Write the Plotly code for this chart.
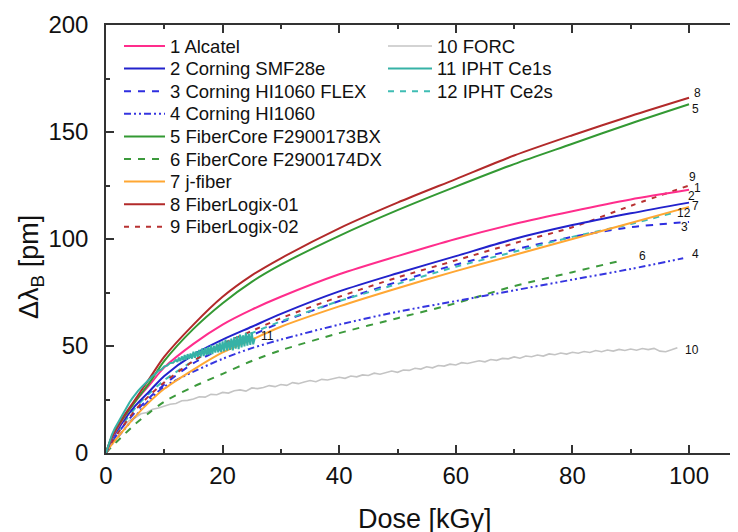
import plotly.graph_objects as go

# ---------------- data ----------------
dose_std = [0, 1, 2.5, 5, 7.5, 10, 15, 20, 25, 30, 40, 50, 60, 70, 80, 90, 100]
dose_4 = [0, 1, 2.5, 5, 7.5, 10, 15, 20, 25, 30, 40, 50, 60, 70, 80, 90, 99]
dose_6 = [0, 1, 2.5, 5, 7.5, 10, 15, 20, 25, 30, 40, 50, 60, 70, 80, 88.5]
dose_12 = [0, 1, 2.5, 5, 7.5, 10, 15, 20, 25, 30, 40, 50, 60, 70, 80, 90, 97]

alcatel = [0, 7, 14, 24, 32, 40, 51, 60, 67, 73, 83.5, 92, 100, 107, 113, 118.5, 123]
smf28e = [0, 6.5, 13, 22, 29, 36, 46, 53, 59, 65, 75.5, 84, 92, 100, 106.5, 112, 117]
hi1060flex = [0, 5, 11, 19, 26, 32, 42, 49, 55, 61, 71, 80, 88, 95, 101, 105.5, 108]
hi1060 = [0, 4, 9, 17, 25, 31, 38, 44, 49, 53, 60, 66, 71, 76, 81, 86, 91]
f2900173bx = [0, 7.5, 14.5, 24, 33, 43, 58, 70, 80, 88, 101.5, 113.5, 124.5, 135, 144.5, 154, 163]
f2900174dx = [0, 3, 7, 13.5, 19, 24, 31, 37, 43, 48, 56, 63, 70, 78, 84.5, 90]
jfiber = [0, 4, 9, 17, 24, 30, 39, 47, 53, 59, 68.5, 77, 85, 92.5, 100, 107.5, 115]
fiberlogix01 = [0, 7.5, 15, 25, 35, 45, 60, 73, 83, 91, 105, 117, 128, 139, 148.5, 157.5, 166]
fiberlogix02 = [0, 5, 11, 20, 27, 33, 43, 51, 57, 63, 73, 82, 90, 98, 105.5, 115.5, 125]
iphtce2s = [0, 6, 12, 21, 28, 34, 43, 50, 56, 61.5, 71, 79, 87, 94, 101, 107, 112]

dose_10 = list(range(0, 99))
forc = [0, 6.0, 9.8, 12.6, 15.2, 16.4, 18.3, 18.9, 20.4, 21.0,
        21.9, 22.8, 23.1, 24.4, 24.6, 25.2, 26.3, 26.1, 27.4, 27.2,
        28.3, 28.0, 29.1, 29.5, 28.9, 30.4, 30.1, 30.6, 31.5, 31.0,
        32.0, 31.6, 32.9, 32.4, 33.2, 33.9, 33.3, 34.4, 34.1, 34.9,
        35.4, 34.9, 36.0, 35.6, 36.5, 36.2, 37.3, 36.8, 37.5, 38.3,
        37.7, 38.8, 38.6, 39.6, 39.2, 40.3, 39.8, 40.9, 40.6, 41.5,
        41.1, 42.2, 41.8, 42.4, 43.1, 42.6, 43.7, 43.3, 44.2, 44.0,
        44.9, 44.3, 45.3, 45.0, 45.8, 45.3, 46.3, 45.9, 46.7, 46.2,
        47.1, 46.6, 47.4, 47.0, 47.9, 47.3, 48.1, 47.6, 48.4, 47.9,
        48.6, 48.0, 48.8, 48.3, 48.9, 47.6, 47.3, 48.2, 49.2]

dose_11 = [0, 0.5, 1, 1.5, 2, 2.5, 3, 3.5, 4, 4.5, 5, 5.5, 6, 6.5, 7, 7.5, 8, 8.5,
           9, 9.5, 10, 10.5, 11, 11.5, 12,
           12.25, 12.5, 12.75, 13, 13.25, 13.5, 13.75, 14, 14.25, 14.5, 14.75,
           15, 15.25, 15.5, 15.75, 16, 16.25, 16.5, 16.75, 17, 17.25, 17.5, 17.75,
           18, 18.25, 18.5, 18.75, 19, 19.25, 19.5, 19.75, 20, 20.25, 20.5, 20.75,
           21, 21.25, 21.5, 21.75, 22, 22.25, 22.5, 22.75, 23, 23.25, 23.5, 23.75,
           24, 24.25, 24.5, 24.75, 25, 25.25, 25.5]
iphtce1s = [0, 4.5, 8.5, 11.5, 14, 16.5, 19, 21, 23.5, 25.5, 27.5, 29, 30.5, 32, 33.5, 35, 36, 37,
            38.5, 39, 40.5, 40.8, 42, 42.2, 43.5,
            42.6, 44.6, 42.9, 45.1, 43.4, 45.8, 43.6, 46.2, 44.0, 46.5, 44.1,
            47.3, 44.5, 47.6, 45.0, 48.2, 45.1, 48.9, 45.3, 49.1, 45.8, 49.6, 46.0,
            50.3, 46.2, 50.1, 46.9, 51.0, 47.0, 51.7, 47.2, 52.2, 47.5, 53.0, 47.9,
            52.6, 48.2, 53.5, 48.0, 54.2, 48.8, 54.6, 48.5, 55.3, 49.3, 55.0, 49.8,
            56.1, 50.2, 55.8, 50.5, 56.4, 50.8, 53.5]

x_ticks = [0, 20, 40, 60, 80, 100]
y_ticks = [0, 50, 100, 150, 200]

FONT = "Liberation Sans, Arial, Helvetica, sans-serif"

# (name, end-label, x, y, colour, dash, width, legend column, legend row, xshift, yshift)
series = [
    ("10 FORC", "10", dose_10, forc, "#c4c4c4", "solid", 1.6, 1, 0, 15, -2),
    ("6 FiberCore F2900174DX", "6", dose_6, f2900174dx, "#3c9a3c", "7px,7px", 2, 0, 5, 21, 4),
    ("4 Corning HI1060", "4", dose_4, hi1060, "#3535e0", "7px,3px,2px,3px,2px,3px", 2, 0, 3, 12, 4),
    ("3 Corning HI1060 FLEX", "3", dose_std, hi1060flex, "#2e2ee0", "7px,7px", 2, 0, 2, -5, -5),
    ("12 IPHT Ce2s", "12", dose_12, iphtce2s, "#3fbdb4", "6px,6px", 2, 1, 2, 12, 0),
    ("7 j-fiber", "7", dose_std, jfiber, "#ffa733", "solid", 2, 0, 6, 6, 1),
    ("9 FiberLogix-02", "9", dose_std, fiberlogix02, "#b83232", "5px,6px", 2, 0, 8, 3, 9),
    ("2 Corning SMF28e", "2", dose_std, smf28e, "#2222cc", "solid", 2, 0, 1, 2, 7),
    ("1 Alcatel", "1", dose_std, alcatel, "#ff2d8c", "solid", 2, 0, 0, 8, 2),
    ("5 FiberCore F2900173BX", "5", dose_std, f2900173bx, "#339933", "solid", 2, 0, 4, 6, -5),
    ("8 FiberLogix-01", "8", dose_std, fiberlogix01, "#b22a2a", "solid", 2, 0, 7, 8, 5),
    ("11 IPHT Ce1s", "11", dose_11, iphtce1s, "#36b2a6", "solid", 2, 1, 1, 13, 3),
]

# The page body has an 8 px default margin, so the figure is drawn 8 px right / down.
OFF = 8
W, H = 738 - OFF, 532 - OFF
# plot-area geometry in screen pixels (reference coordinates)
L, T, R, B = 106, 25, 738, 453
def px_x(p):
    return (p - L) / (R - L)
def px_y(p):
    return (B - p) / (B - T)

legend_cols = [dict(x0=124, x1=165, tx=168), dict(x0=388, x1=432, tx=435)]
row0, row_step = 46, 22.6

fig = go.Figure()
annotations = []
shapes = []
for name, lab, xs, ys, col, dash, w, lcol, lrow, xs_, ys_ in series:
    smooth = len(xs) < 30
    fig.add_trace(go.Scatter(
        x=xs, y=ys, mode="lines", name=name, showlegend=False,
        line=dict(color=col, width=w, dash=dash,
                  shape="spline" if smooth else "linear", smoothing=0.8 if smooth else None),
        hoverinfo="skip"))
    annotations.append(dict(x=xs[-1], y=ys[-1], xref="x", yref="y", text=lab,
                            showarrow=False, xanchor="center", yanchor="middle",
                            xshift=xs_, yshift=ys_,
                            font=dict(size=12, color="#111", family=FONT)))
    c = legend_cols[lcol]
    yy = px_y(row0 + row_step * lrow)
    shapes.append(dict(type="line", xref="paper", yref="paper",
                       x0=px_x(c["x0"]), x1=px_x(c["x1"]), y0=yy, y1=yy,
                       line=dict(color=col, width=w, dash=dash)))
    annotations.append(dict(x=px_x(c["tx"]), y=yy, xref="paper", yref="paper", text=name,
                            showarrow=False, xanchor="left", yanchor="middle",
                            font=dict(size=18.5, color="#111", family=FONT)))

annotations.append(dict(x=px_x(425), y=px_y(519), xref="paper", yref="paper",
                        text="Dose [kGy]", showarrow=False, xanchor="center", yanchor="middle",
                        font=dict(size=27, color="#111", family=FONT)))
annotations.append(dict(x=px_x(31), y=px_y(267), xref="paper", yref="paper",
                        text="Δλ<sub>B</sub> [pm]", textangle=-90, showarrow=False,
                        xanchor="center", yanchor="middle",
                        font=dict(size=27, color="#111", family=FONT)))

axis_common = dict(showgrid=False, zeroline=False, showline=True, linecolor="#333",
                   linewidth=1.5, ticks="inside", ticklen=8, tickwidth=1.5, tickcolor="#333",
                   automargin=False,
                   tickfont=dict(size=24, color="#111", family=FONT))

fig.update_layout(
    template="none",
    width=W, height=H,
    margin=dict(l=L - OFF, r=0, t=T - OFF, b=H - (B - OFF), autoexpand=False),
    paper_bgcolor="white", plot_bgcolor="white",
    font=dict(family=FONT, color="#111"),
    xaxis=dict(range=[0, 108.4], tickvals=x_ticks, mirror="ticks",
               minor=dict(dtick=10, tick0=0, ticks="inside", ticklen=4, tickwidth=1.5, tickcolor="#333"),
               ticklabelstandoff=0, **axis_common),
    yaxis=dict(range=[0, 200], tickvals=y_ticks, mirror=False,
               minor=dict(dtick=25, tick0=0, ticks="inside", ticklen=4, tickwidth=1.5, tickcolor="#333"),
               ticklabelstandoff=11, **axis_common),
    annotations=annotations,
    shapes=shapes,
    showlegend=False,
)

fig.write_html("out.html")
